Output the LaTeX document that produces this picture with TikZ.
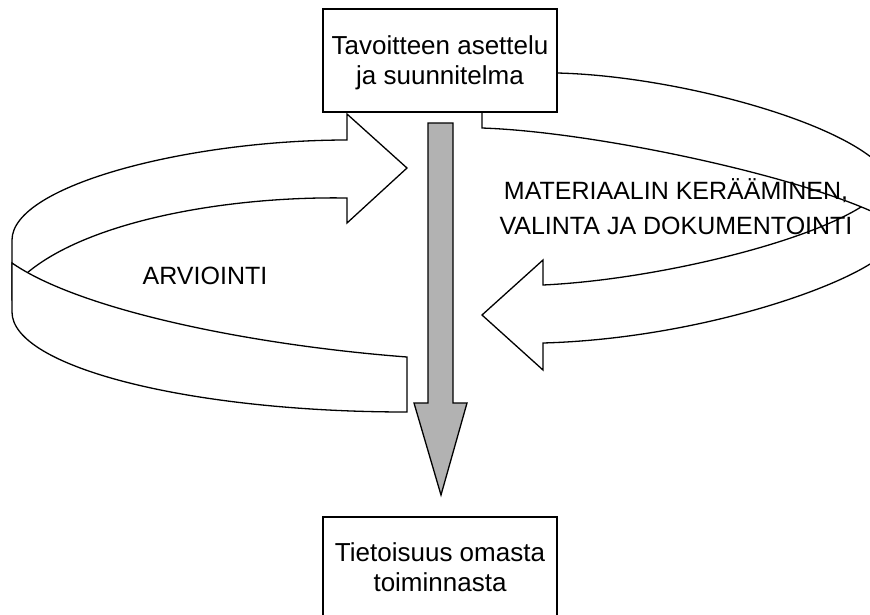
\documentclass[tikz,border=0pt]{standalone}
\usepackage{fontspec}
\setmainfont{Liberation Sans}
\definecolor{arrowgray}{RGB}{178,178,178}
\begin{document}
\begin{tikzpicture}[x=1pt,y=-1pt, line join=miter,
  band/.style={draw=black, fill=white, line width=1.3pt},
  box/.style={draw=black, fill=white, line width=1.4pt, minimum width=234pt, inner sep=0pt},
  boxtext/.style={align=center, font=\fontsize{26}{30}\selectfont, inner sep=0pt},
  lbl/.style={align=center, font=\fontsize{25}{35}\selectfont, inner sep=0pt}]
\useasboundingbox (0,0) rectangle (870,614);
\clip (0,0) rectangle (870,614);

% left ribbon: upper band (behind)
\draw[band] (12,300) -- (12,240) .. controls (12,185) and (190,140) .. (347,140) -- (347,114) -- (407,168) -- (347,223) -- (347,198) .. controls (230,196) and (90,220) .. (27,273) -- (40,300) -- cycle;
% left ribbon: lower band (in front)
\draw[band] (12,312) .. controls (12,367) and (190,412) .. (407,412) -- (407,357) .. controls (250,345) and (80,310) .. (12,263) -- cycle;

% right ribbon: lower band with head (behind)
\draw[band] (543,285) .. controls (650,280) and (800,245) .. (861,207) -- (893,207) -- (893,240) .. controls (893,270) and (720,338) .. (543,343) -- (543,370) -- (482,315) -- (543,260) -- cycle;
% right ribbon: upper band (in front)
\draw[band] (482,128) -- (482,73) -- (557,73) .. controls (690,76) and (893,135) .. (893,190) -- (893,222) .. controls (820,180) and (600,132) .. (482,128) -- cycle;

% grey downward arrow
\draw[line width=1.3pt, fill=arrowgray] (428,123) -- (453,123) -- (453,403) -- (467,403) -- (441,495) -- (414,403) -- (428,403) -- cycle;

% boxes
\node[box, minimum height=103pt] (plan) at (440,60.5) {};
\node[boxtext] (plantext) at (440,63.25) {Tavoitteen asettelu\\ja suunnitelma};
\node[box, minimum height=104pt] (aware) at (440,569) {};
\node[boxtext] (awaretext) at (440,567.5) {Tietoisuus omasta\\toiminnasta};

% labels
\node[lbl] (arv) at (205,276) {ARVIOINTI};
\node[lbl] (mat) at (676,206.5) {MATERIAALIN KERÄÄMINEN,\\VALINTA JA DOKUMENTOINTI};
\end{tikzpicture}
\end{document}
